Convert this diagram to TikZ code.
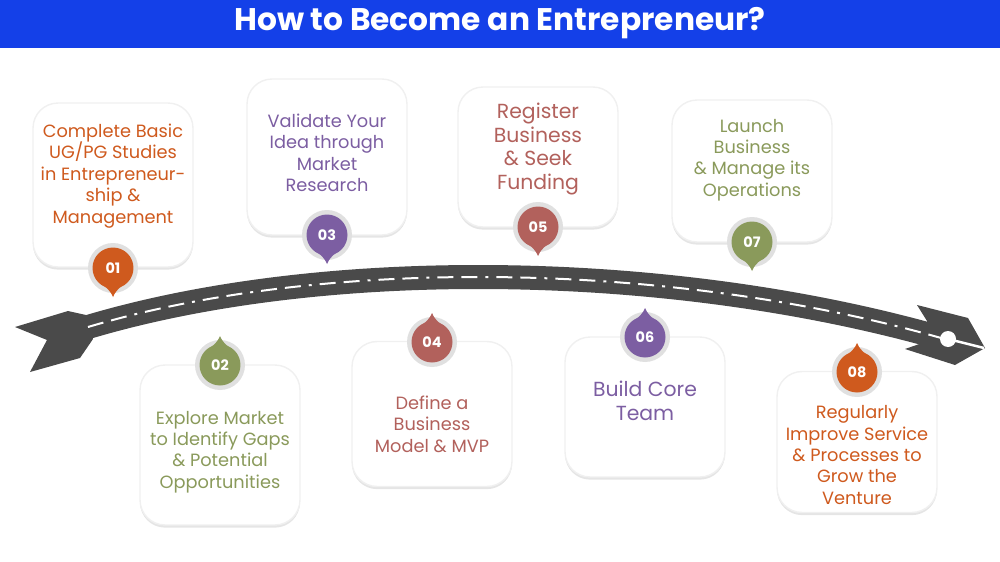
\documentclass[tikz,border=0pt]{standalone}
\usepackage{fontspec}
\setmainfont{Poppins}
\usepackage{xcolor}
\usepackage{tikz}
\usetikzlibrary{positioning,shadows}
\definecolor{titleblue}{RGB}{20,64,232}
\definecolor{roadgray}{RGB}{74,74,74}
\definecolor{ringgray}{RGB}{224,224,224}
\definecolor{steporange}{RGB}{207,90,30}
\definecolor{stepolive}{RGB}{138,154,91}
\definecolor{steppurple}{RGB}{124,94,162}
\definecolor{stepbrown}{RGB}{178,97,92}

% teardrop badge: name, centre, turn (0 = tip down, 180 = tip up), colour, number
\newcommand{\stepbadge}[5]{%
	\begin{scope}[shift={#2}, rotate=#3]
		\fill[ringgray] (0,0) circle[radius=0.5cm];
		\fill[#4] (-10,17) .. controls (-5,21) and (-2,24) .. (0,29)
		.. controls (2,24) and (5,21) .. (10,17) -- cycle;
		\fill[#4] (0,0) circle[radius=0.41cm];
	\end{scope}
	\node[badgenum] (#1) at #2 {#5};
}

\begin{document}
\begin{tikzpicture}[
		x=0.02cm,y=-0.02cm,
		card/.style={fill=white, draw=black!6, line width=0.8pt, rounded corners=0.5cm,
			minimum width=3.2cm,
			drop shadow={shadow xshift=0pt, shadow yshift=-1.5pt, fill=black, opacity=0.10}},
		cardtext/.style={align=center, inner sep=0pt, font=\fontsize{10.1}{12.2}\selectfont},
		bigtext/.style={align=center, inner sep=0pt, font=\fontsize{11.6}{13.6}\selectfont},
		badgenum/.style={text=white, inner sep=0pt, font=\bfseries\fontsize{8.2}{9}\selectfont},
		road/.style={draw=roadgray, line width=0.48cm},
		lane/.style={draw=white, line width=0.04cm,
			dash pattern=on 0.32cm off 0.16cm on 0.32cm off 0.16cm on 0.06cm off 0.16cm}
		]
		\useasboundingbox (0,0) rectangle (1000,561);
		
		% ====== TITLE ======
		\fill[titleblue] (0,0) rectangle (1000,48);
		\node[text=white, font=\bfseries\fontsize{17.8}{20}\selectfont] (title) at (500,23)
		{How to Become an Entrepreneur?};
		
		% ====== ROAD ======
		\draw[road] (88,327) .. controls (330,255) and (680,262) .. (948,340);
		\fill[roadgray] (15,327) -- (68,311) -- (86,315) -- (93,339) -- (80,358)
		-- (30,372) -- (47,340) -- cycle;
		\fill[roadgray] (927,321) -- (917,305) -- (968,318) -- (985,348) -- (955,365)
		-- (905,349) -- (928,341) -- cycle;
		\draw[lane] (88,327) .. controls (330,255) and (680,262) .. (948,340);
		\coordinate (roadend) at (948,339);
		\coordinate (roadtip) at (984,348);
		\draw[white, line width=0.05cm] (roadend) -- (roadtip);
		\fill[white] (roadend) circle[radius=0.16cm];
		
		% ====== CARDS (top row) ======
		\node[card, minimum height=3.28cm] (c1) at (113,185) {};
		\node[card, minimum height=3.12cm] (c3) at (327,157) {};
		\node[card, minimum height=2.80cm] (c5) at (538,157) {};
		\node[card, minimum height=2.84cm] (c7) at (752,171) {};
		
		% ====== CARDS (bottom row) ======
		\node[card, minimum height=3.20cm] (c2) at (220,445) {};
		\node[card, minimum height=2.90cm] (c4) at (432,414) {};
		\node[card, minimum height=2.80cm] (c6) at (645,407) {};
		\node[card, minimum height=2.82cm] (c8) at (857,442) {};
		
		% ====== TEXTS ======
		\node[cardtext, text=steporange] (t1) at (113,176)
		{Complete Basic\\UG/PG Studies\\in Entrepreneur-\\ship \&\\Management};
		\node[cardtext, text=steppurple] (t3) at (327,153)
		{Validate Your\\Idea through\\Market\\Research};
		\node[bigtext, text=stepbrown] (t5) at (538,149)
		{Register\\Business\\\& Seek\\Funding};
		\node[cardtext, text=stepolive] (t7) at (752,160)
		{Launch\\Business\\\& Manage its\\Operations};
		\node[cardtext, text=stepolive] (t2) at (220,452)
		{Explore Market\\to Identify Gaps\\\& Potential\\Opportunities};
		\node[cardtext, text=stepbrown] (t4) at (432,424)
		{Define a\\Business\\Model \& MVP};
		\node[bigtext, text=steppurple] (t6) at (645,401)
		{Build Core\\Team};
		\node[cardtext, text=steporange] (t8) at (857,455)
		{Regularly\\Improve Service\\\& Processes to\\Grow the\\Venture};
		
		% ====== BADGES ======
		\stepbadge{b1}{(113,268)}{0}{steporange}{01}
		\stepbadge{b3}{(327,235)}{0}{steppurple}{03}
		\stepbadge{b5}{(538,227)}{0}{stepbrown}{05}
		\stepbadge{b7}{(752,242)}{0}{stepolive}{07}
		\stepbadge{b2}{(220,365)}{180}{stepolive}{02}
		\stepbadge{b4}{(432,342)}{180}{stepbrown}{04}
		\stepbadge{b6}{(645,337)}{180}{steppurple}{06}
		\stepbadge{b8}{(857,372)}{180}{steporange}{08}
		
\end{tikzpicture}
\end{document}
